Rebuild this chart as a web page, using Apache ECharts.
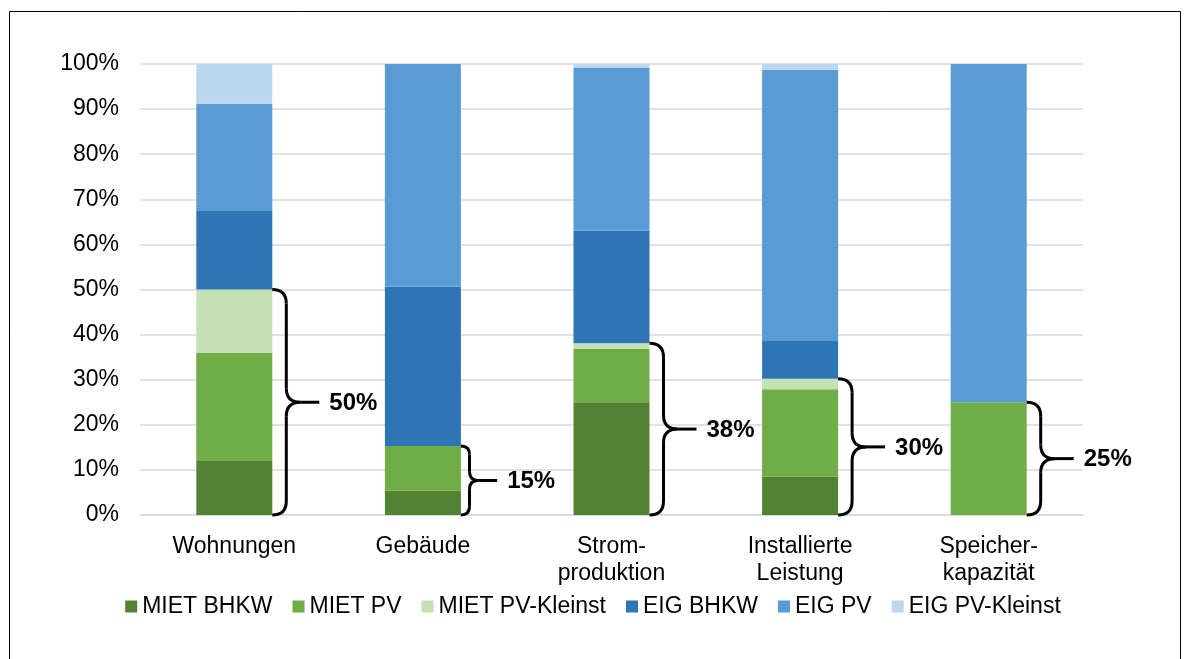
<!DOCTYPE html>
<html>
<head>
<meta charset="utf-8">
<script src="https://cdn.jsdelivr.net/npm/echarts@6/dist/echarts.min.js"></script>
<style>
    html, body { margin: 0; padding: 0; background: #fff; }
    #chart { width: 1186px; height: 659px; }
</style>
</head>
<body>
<div id="chart"></div>
<script>
// Kategorien und Anteile (in %)
const categories = ['Wohnungen', 'Gebäude', 'Strom-\nproduktion', 'Installierte\nLeistung', 'Speicher-\nkapazität'];
const mietBhkw = [12.0, 5.4, 25.0, 8.5, 0];
const mietPv = [24.0, 9.9, 11.8, 19.4, 25.0];
const mietPvKleinst = [14.0, 0, 1.3, 2.3, 0];
const eigBhkw = [17.4, 35.3, 24.9, 8.4, 0];
const eigPv = [23.8, 49.4, 36.2, 60.1, 75.0];
const eigPvKleinst = [8.8, 0, 0.8, 1.3, 0];

// Klammern: Summe der MIET-Anteile je Kategorie
const braceLabels = ['50%', '15%', '38%', '30%', '25%'];

const barWidth = 76;

const chart = echarts.init(document.getElementById('chart'));

const seriesDefs = [
    { name: 'MIET BHKW', data: mietBhkw, color: '#548235' },
    { name: 'MIET PV', data: mietPv, color: '#70AD47' },
    { name: 'MIET PV-Kleinst', data: mietPvKleinst, color: '#C5E0B4' },
    { name: 'EIG BHKW', data: eigBhkw, color: '#2E75B6' },
    { name: 'EIG PV', data: eigPv, color: '#5B9BD5' },
    { name: 'EIG PV-Kleinst', data: eigPvKleinst, color: '#BDD7EE' }
];

const braceData = categories.map((c, i) => [i, mietBhkw[i] + mietPv[i] + mietPvKleinst[i], braceLabels[i]]);

// geschweifte Klammer rechts neben dem Balken
function renderBrace(params, api) {
    const idx = api.value(0);
    const top = api.coord([idx, api.value(1)]);
    const bot = api.coord([idx, 0]);
    const x0 = top[0] + barWidth / 2;
    const yTop = top[1];
    const yBot = bot[1];
    const yMid = (yTop + yBot) / 2;
    const h = yBot - yTop;
    const r = Math.min(14, h / 8);
    const tip = x0 + 2 * r + 19;
    const st = { stroke: '#000', lineWidth: 3, fill: null };
    return {
        type: 'group',
        children: [
            { type: 'bezierCurve', shape: { x1: x0, y1: yTop, cpx1: x0 + r, cpy1: yTop, x2: x0 + r, y2: yTop + r }, style: st },
            { type: 'line', shape: { x1: x0 + r, y1: yTop + r, x2: x0 + r, y2: yMid - r }, style: st },
            { type: 'bezierCurve', shape: { x1: x0 + r, y1: yMid - r, cpx1: x0 + r, cpy1: yMid, x2: x0 + 2 * r, y2: yMid }, style: st },
            { type: 'bezierCurve', shape: { x1: x0 + 2 * r, y1: yMid, cpx1: x0 + r, cpy1: yMid, x2: x0 + r, y2: yMid + r }, style: st },
            { type: 'line', shape: { x1: x0 + r, y1: yMid + r, x2: x0 + r, y2: yBot - r }, style: st },
            { type: 'bezierCurve', shape: { x1: x0 + r, y1: yBot - r, cpx1: x0 + r, cpy1: yBot, x2: x0, y2: yBot }, style: st },
            { type: 'line', shape: { x1: x0 + 2 * r, y1: yMid, x2: tip, y2: yMid }, style: st },
            {
                type: 'text',
                style: {
                    x: tip + 10, y: yMid + 1,
                    text: api.value(2),
                    font: 'bold 24px Arial, "Liberation Sans", sans-serif',
                    fill: '#000',
                    verticalAlign: 'middle'
                }
            }
        ]
    };
}

const option = {
    animation: false,
    textStyle: { fontFamily: 'Arial, "Liberation Sans", sans-serif' },
    graphic: [{
        type: 'rect',
        shape: { x: 9.5, y: 11.5, width: 1171, height: 660 },
        style: { stroke: '#000', lineWidth: 1, fill: null },
        silent: true
    }],
    legend: {
        bottom: 36,
        left: 'center',
        icon: 'rect',
        itemWidth: 12,
        itemHeight: 12,
        itemGap: 20,
        textStyle: { fontSize: 23, color: '#000', padding: [0, 0, 0, 0] },
        data: seriesDefs.map(s => s.name)
    },
    grid: { left: 140, right: 103, top: 64, bottom: 144 },
    xAxis: {
        type: 'category',
        data: categories,
        axisLine: { lineStyle: { color: '#d9d9d9', width: 1.5 } },
        axisTick: { show: false },
        axisLabel: { fontSize: 23, color: '#000', margin: 18, lineHeight: 27, interval: 0 }
    },
    yAxis: {
        type: 'value',
        min: 0,
        max: 100,
        interval: 10,
        axisLine: { show: false },
        axisTick: { show: false },
        axisLabel: { fontSize: 23, color: '#000', margin: 21, formatter: '{value}%' },
        splitLine: { lineStyle: { color: '#d9d9d9', width: 1.5 } }
    },
    series: seriesDefs.map(s => ({
        name: s.name,
        type: 'bar',
        stack: 'total',
        barWidth: barWidth,
        data: s.data,
        itemStyle: { color: s.color }
    })).concat([{
        type: 'custom',
        renderItem: renderBrace,
        data: braceData,
        encode: { x: 0, y: 1 },
        z: 10,
        silent: true
    }])
};

chart.setOption(option);
</script>
</body>
</html>
